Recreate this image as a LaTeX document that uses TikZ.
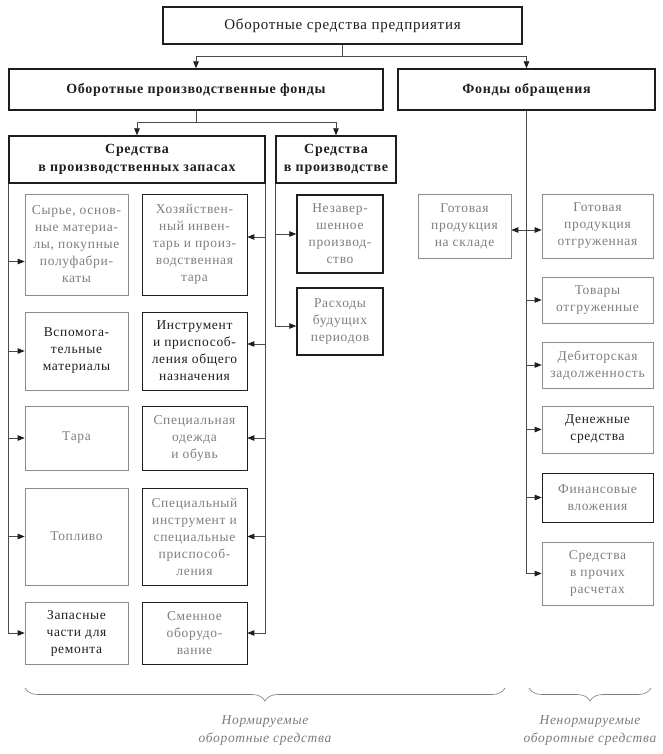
\documentclass[tikz,border=0pt]{standalone}
\usepackage{fontspec}
\setmainfont{Liberation Serif}[LetterSpace=5]
\usetikzlibrary{positioning,calc,arrows.meta,decorations.pathreplacing}
\definecolor{inkblack}{HTML}{1E1E1E}
\definecolor{wiregray}{HTML}{4A4A4A}
\definecolor{framegray}{HTML}{8C8C8C}
\definecolor{fadedtext}{HTML}{7E7E7E}
\definecolor{capgray}{HTML}{7A7A7A}

\begin{document}
\begin{tikzpicture}[
    x=1pt,y=-1pt,
    head/.style={rectangle,draw=inkblack,line width=1.4pt,inner sep=0pt,align=center,
      font=\fontsize{14}{18}\selectfont\bfseries,text=inkblack},
    cellbase/.style={rectangle,line width=0.7pt,inner sep=0pt,align=center,
      font=\fontsize{13.5}{17}\selectfont},
    cell/.style={cellbase,draw=framegray,text=fadedtext},
    cellt/.style={cellbase,draw=framegray,text=inkblack},
    cellk/.style={cellbase,draw=inkblack,text=fadedtext},
    cellkt/.style={cellbase,draw=inkblack,text=inkblack},
    cellkk/.style={cellk,line width=1.4pt},
    wire/.style={-,line width=0.8pt,wiregray},
    arr/.style={-{Triangle[length=7pt,width=5.5pt,color=inkblack]},line width=0.8pt,wiregray},
    curly/.style={decorate,decoration={brace,mirror,amplitude=13pt},line width=0.6pt,capgray},
    caption/.style={font=\fontsize{13.5}{18}\selectfont\itshape,text=capgray,align=center}
  ]
    \useasboundingbox (0,0) rectangle (663,754);
    % Top levels
    \node[head,font=\fontsize{15}{18}\selectfont,minimum width=359,minimum height=37] (osp) at (342.5,25.5) {Оборотные средства предприятия};
    \node[head,minimum width=374,minimum height=41] (opf) at (196,89.5) {Оборотные производственные фонды};
    \node[head,minimum width=257,minimum height=41] (fo) at (526.5,89.5) {Фонды обращения};
    \node[head,minimum width=256,minimum height=47] (szap) at (137,159.5) {Средства\\в производственных запасах};
    \node[head,minimum width=120,minimum height=47] (sprod) at (336,159.5) {Средства\\в производстве};
    \coordinate (j0) at ($(osp.south)+(0,12)$);
    \draw[wire] (osp.south) -- (j0);
    \draw[arr] (j0) -| (opf.north);
    \draw[arr] (j0) -| (fo.north);
    \coordinate (j1) at ($(opf.south)+(0,12)$);
    \draw[wire] (opf.south) -- (j1);
    \draw[arr] (j1) -| (szap.north);
    \draw[arr] (j1) -| (sprod.north);
    % Production stocks, left column
    \foreach \n/\y/\h/\s/\t in {
      syr/244.5/101/cell/{Сырье, основ-\\ные материа-\\лы, покупные\\полуфабри-\\каты},
      vsp/351/78/cellt/{Вспомога-\\тельные\\материалы},
      tara/438/64/cell/{Тара},
      topl/536.5/97/cell/{Топливо},
      zap/633/62/cellt/{Запасные\\части для\\ремонта}} {
      \node[\s,minimum width=103,minimum height=\h] (\n) at (76.5,\y) {\t};
    }
    % Production stocks, right column
    \foreach \n/\y/\h/\s/\t in {
      hoz/244.5/101/cellk/{Хозяйствен-\\ный инвен-\\тарь и произ-\\водственная\\тара},
      instr/351/78/cellkt/{Инструмент\\и приспособ-\\ления общего\\назначения},
      odezh/438/64/cellk/{Специальная\\одежда\\и обувь},
      spinstr/536.5/97/cellk/{Специальный\\инструмент и\\специальные\\приспособ-\\ления},
      smen/633/62/cellk/{Сменное\\оборудо-\\вание}} {
      \node[\s,minimum width=105,minimum height=\h] (\n) at (194.5,\y) {\t};
    }
    \draw[arr] (szap.south west) |- ([yshift=-17pt]syr.west);
    \foreach \n in {vsp,tara,topl,zap}
      \draw[arr] (szap.south west) |- (\n.west);
    \draw[arr] (szap.south east) |- ([yshift=7.5pt]hoz.east);
    \draw[arr] (szap.south east) |- ([yshift=7pt]instr.east);
    \foreach \n in {odezh,spinstr,smen}
      \draw[arr] (szap.south east) |- (\n.east);
    % In production
    \node[cellkk,minimum width=86,minimum height=78] (nezav) at (340,234) {Незавер-\\шенное\\производ-\\ство};
    \node[cellkk,minimum width=86,minimum height=67] (rbp) at (340,321.5) {Расходы\\будущих\\периодов};
    \draw[arr] (sprod.south west) |- (nezav.west);
    \draw[arr] (sprod.south west) |- ([yshift=-4.5pt]rbp.west);
    % Circulation funds
    \node[cell,minimum width=93,minimum height=64] (gps) at (464.5,226) {Готовая\\продукция\\на складе};
    \foreach \n/\y/\h/\s/\t in {
      gpo/226/64/cell/{Готовая\\продукция\\отгруженная},
      tov/300/46/cell/{Товары\\отгруженные},
      deb/365/46/cell/{Дебиторская\\задолженность},
      den/429.5/47/cellt/{Денежные\\средства},
      fin/497.5/49/cellk/{Финансовые\\вложения},
      proch/573.5/63/cell/{Средства\\в прочих\\расчетах}} {
      \node[\s,minimum width=111,minimum height=\h] (\n) at (597.5,\y) {\t};
    }
    \draw[arr] (fo.south) |- ([yshift=-4pt]gps.east);
    \draw[arr] (fo.south) |- ([yshift=-4pt]gpo.west);
    \foreach \n in {tov,deb,den,fin,proch}
      \draw[arr] (fo.south) |- (\n.west);
    % Braces
    \coordinate (nL) at (25,688);
    \coordinate (nR) at (505,688);
    \draw[curly] (nL) -- (nR);
    \node[caption] (norm) at (265,731) {Нормируемые\\оборотные средства};
    \coordinate (uL) at (529,688);
    \coordinate (uR) at (651,688);
    \draw[curly] (uL) -- (uR);
    \node[caption] (nenorm) at (590,731) {Ненормируемые\\оборотные средства};
  \end{tikzpicture}
\end{document}
